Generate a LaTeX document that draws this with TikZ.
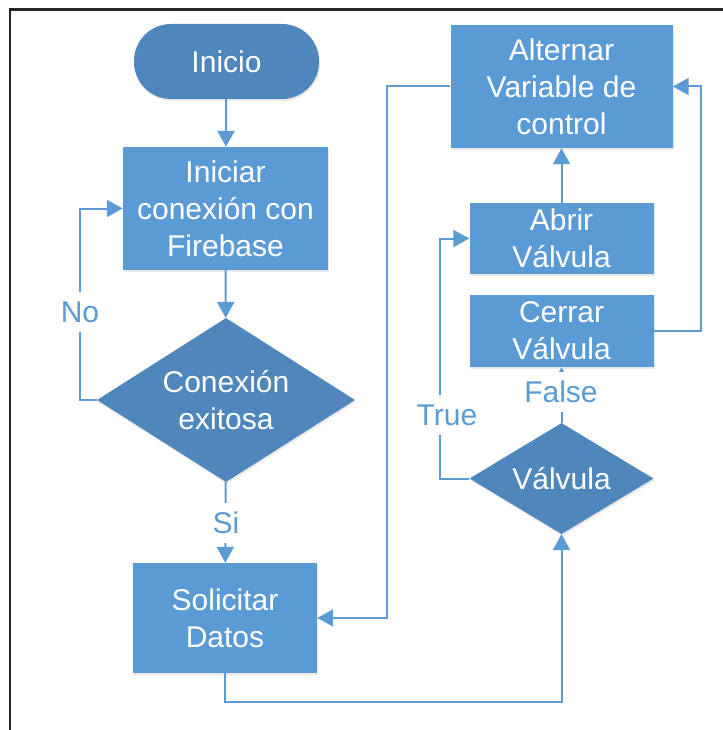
\documentclass[tikz,border=0pt]{standalone}
\usepackage{fontspec}
\setmainfont{Liberation Sans}
\usetikzlibrary{shapes.geometric,arrows.meta,shadows}
\definecolor{boxblue}{HTML}{5B9BD5}
\definecolor{darkblue}{HTML}{4F87BD}
\definecolor{lineblue}{HTML}{5B9BD5}
\begin{document}
\begin{tikzpicture}[x=1pt,y=-1pt,
  txt/.style={font=\fontsize{30}{37}\selectfont, text=white, align=center},
  softshadow/.style={drop shadow={opacity=0.18, shadow xshift=1pt, shadow yshift=-2pt}},
  procbox/.style={txt, rectangle, fill=boxblue, inner sep=0pt, softshadow},
  startbox/.style={txt, rectangle, rounded corners=37pt, fill=darkblue, inner sep=0pt, softshadow},
  decbox/.style={txt, diamond, fill=darkblue, inner sep=0pt, softshadow},
  conn/.style={draw=lineblue, line width=2pt, -{Triangle[length=16pt,width=17pt]}},
  lbl/.style={font=\fontsize{30}{36}\selectfont, text=lineblue, fill=white, inner sep=1pt, minimum height=40pt}
]
\useasboundingbox (0,0) rectangle (722,730);
\fill[white] (0,0) rectangle (722,730);
\draw[line width=2.5pt, black!85] (10,731) -- (10,9.5) -- (723,9.5);

% nodes
\node[startbox, minimum width=185pt, minimum height=75pt] (start) at (226.5,61.5) {Inicio};
\node[procbox, minimum width=205pt, minimum height=123pt] (init) at (225.5,208.5) {Iniciar\\conexión con\\Firebase};
\node[decbox, aspect=1.573, minimum width=258pt, minimum height=164pt] (dec1) at (226,400) {Conexión\\exitosa};
\node[procbox, minimum width=184pt, minimum height=110pt] (req) at (225,618) {Solicitar\\Datos};
\node[procbox, minimum width=222pt, minimum height=123pt] (alt) at (561.5,86.5) {Alternar\\Variable de\\control};
\node[procbox, minimum width=184pt, minimum height=71pt] (open) at (561.5,238.5) {Abrir\\Válvula};
\node[procbox, minimum width=184pt, minimum height=72pt] (close) at (561.5,331) {Cerrar\\Válvula};
\node[decbox, aspect=1.66, minimum width=184pt, minimum height=111pt] (dec2) at (561.5,478.5) {Válvula};

% connectors
\draw[conn] (start) -- (init);
\draw[conn] (init) -- (dec1);
\draw[conn] (dec1) -- (req);
\draw[conn] (dec1.west) -- ++(-17,0) |- (init.west);
\draw[conn] (req.south) -- ++(0,29) -| (dec2.south);
\draw[conn] (alt.west) -- ++(-63,0) |- (req.east);
\draw[conn] (close.east) -- ++(47,0) |- (alt.east);
\draw[conn] (dec2.west) -- ++(-29,0) |- (open.west);
\draw[conn] (dec2.north) -- (close.south);
\draw[conn] (open.north) -- (alt.south);

% labels
\node[lbl] (lsi) at (226,523) {Si};
\node[lbl] (lno) at (80,312) {No};
\node[lbl] (ltrue) at (447,415) {True};
\node[lbl] (lfalse) at (561,392) {False};
\end{tikzpicture}
\end{document}
